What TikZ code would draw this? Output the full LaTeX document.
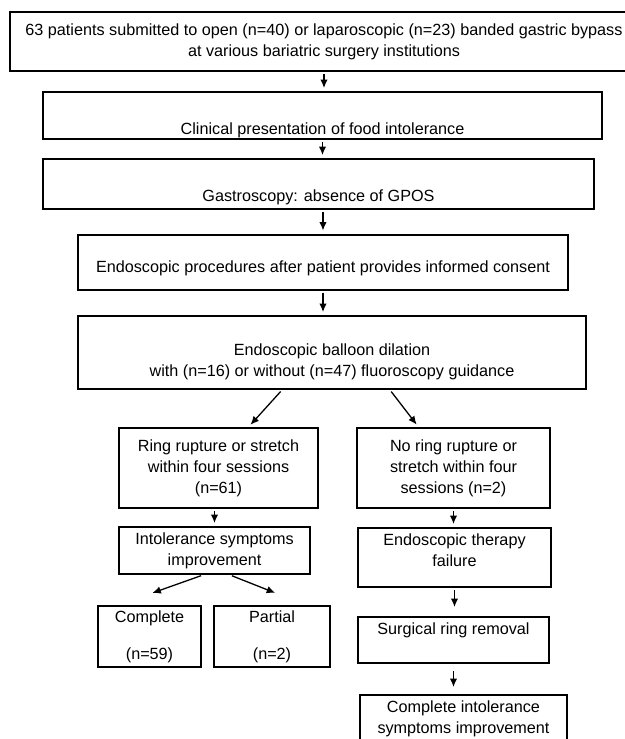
\documentclass[tikz,border=0pt]{standalone}
\usepackage{fontspec}
\setmainfont{Liberation Sans}
\usetikzlibrary{arrows.meta}
\begin{document}
\begin{tikzpicture}[x=1pt, y=-1pt,
  box/.style={draw, line width=2pt, align=center, inner sep=0pt, font=\fontsize{16.2}{21}\selectfont},
  arr/.style={line width=1.3pt, -{Latex[length=8.5pt,width=7.5pt]}, shorten <=2pt, shorten >=3pt}]
\useasboundingbox (0,0) rectangle (624,739);

\node[box, minimum width=628pt, minimum height=59pt] (patients) at (324,41.5) {63 patients submitted to open (n=40) or laparoscopic (n=23) banded gastric bypass\\at various bariatric surgery institutions};
\node[box, minimum width=559pt, minimum height=47pt, text height=37pt, text depth=0pt] (clinical) at (322.5,115.5) {Clinical presentation of food intolerance};
\node[box, minimum width=551pt, minimum height=50pt, text height=34pt, text depth=0pt] (gastro) at (318.5,184) {Gastroscopy: absence of GPOS};
\node[box, minimum width=490pt, minimum height=55pt, text height=20pt, text depth=0pt] (consent) at (323,262) {Endoscopic procedures after patient provides informed consent};
\node[box, minimum width=508pt, minimum height=73pt, text height=47pt, text depth=0pt] (balloon) at (332,352.5) {Endoscopic balloon dilation\\with (n=16) or without (n=47) fluoroscopy guidance};
\node[box, minimum width=199pt, minimum height=80pt] (rupture) at (218.5,468) {Ring rupture or stretch\\within four sessions\\(n=61)};
\node[box, minimum width=193pt, minimum height=80pt] (norupture) at (453.5,468) {No ring rupture or\\stretch within four\\sessions (n=2)};
\node[box, minimum width=191pt, minimum height=47pt] (improve) at (214.5,550.5) {Intolerance symptoms\\improvement};
\node[box, minimum width=193pt, minimum height=59pt, text height=17pt, text depth=0pt] (failure) at (454.5,557.5) {Endoscopic therapy\\failure};
\node[box, minimum width=103pt, minimum height=61pt] (complete) at (149.5,636.5) {Complete\\[16pt](n=59)};
\node[box, minimum width=116pt, minimum height=61pt] (partial) at (272,636.5) {Partial\\[16pt](n=2)};
\node[box, minimum width=191pt, minimum height=46pt, text height=0pt, text depth=12pt] (removal) at (453.5,640) {Surgical ring removal};
\node[box, minimum width=207pt, minimum height=47pt] (total) at (463.5,718.5) {Complete intolerance\\symptoms improvement};

\draw[arr] (patients.south) -- (patients.south |- clinical.north);
\draw[arr] (clinical.south) -- (clinical.south |- gastro.north);
\draw[arr] (consent.north |- gastro.south) -- (consent.north);
\draw[arr] (consent.south) -- (consent.south |- balloon.north);
\draw[arr] ([xshift=-50pt]balloon.south) -- ([xshift=30pt]rupture.north);
\draw[arr] ([xshift=58pt]balloon.south) -- ([xshift=-35pt]norupture.north);
\draw[arr] (improve.north |- rupture.south) -- (improve.north);
\draw[arr] (norupture.south) -- (norupture.south |- failure.north);
\draw[arr] ([xshift=-11.5pt]improve.south) -- ([yshift=11pt]complete.north);
\draw[arr] ([xshift=15.5pt]improve.south) -- ([xshift=6pt,yshift=11pt]partial.north);
\draw[arr, shorten >=9pt] (failure.south) -- (failure.south |- removal.north);
\draw[arr, shorten <=7pt, shorten >=7pt] (removal.south) -- (removal.south |- total.north);
\end{tikzpicture}
\end{document}
